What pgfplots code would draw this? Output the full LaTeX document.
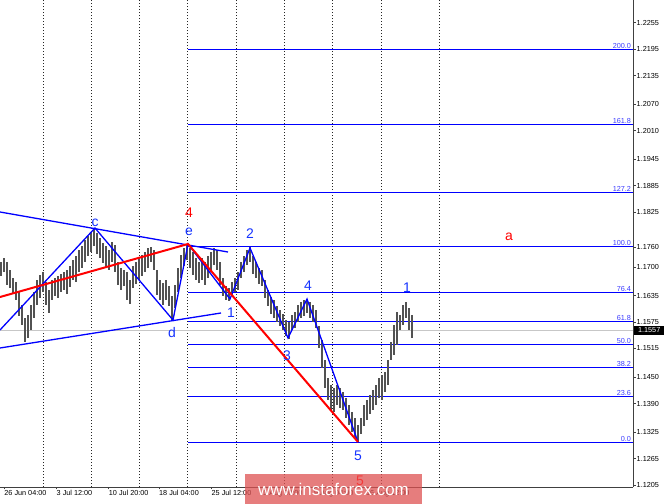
\documentclass[border=0pt]{standalone}
\usepackage{fontspec}
\setmainfont{Liberation Sans}
\usepackage{pgfplots}
\usepackage{pgfplotstable}
\pgfplotsset{compat=1.18}
\definecolor{wblue}{RGB}{0,0,255}
\definecolor{tblue}{RGB}{20,50,255}
\definecolor{fblue}{RGB}{60,60,255}
\definecolor{wred}{RGB}{255,0,0}
\definecolor{wm}{RGB}{222,82,82}
\newcommand{\tk}{\fontsize{7.3}{8}\selectfont}
\newcommand{\wl}{\fontsize{14}{16}\selectfont}

\pgfplotstableread{
x hi lo
1 1.17115 1.16797
4 1.17206 1.16888
7 1.17115 1.16592
10 1.16933 1.16524
13 1.16751 1.16411
16 1.16661 1.16252
19 1.16433 1.15888
22 1.16138 1.15684
25 1.15843 1.15298
28 1.15911 1.15389
31 1.16138 1.15570
34 1.16433 1.15843
37 1.16706 1.16138
40 1.16819 1.16297
43 1.16888 1.16433
46 1.16661 1.16138
49 1.16479 1.15956
52 1.16706 1.16252
55 1.16751 1.16342
58 1.16797 1.16297
61 1.16842 1.16433
64 1.16888 1.16479
67 1.16933 1.16388
70 1.17024 1.16547
73 1.17160 1.16706
76 1.17251 1.16661
79 1.17387 1.16888
82 1.17478 1.16978
85 1.17614 1.17115
88 1.17705 1.17251
91 1.17796 1.17342
94 1.17887 1.17478
97 1.17773 1.17297
100 1.17660 1.17206
103 1.17546 1.17092
106 1.17478 1.16978
109 1.17387 1.16933
112 1.17569 1.17115
115 1.17501 1.16888
118 1.17115 1.16592
121 1.16978 1.16479
124 1.16933 1.16570
127 1.16888 1.16252
130 1.16706 1.16161
133 1.17024 1.16524
136 1.17115 1.16615
139 1.17206 1.16706
142 1.17274 1.16797
145 1.17342 1.16888
148 1.17433 1.16978
151 1.17455 1.17115
154 1.17387 1.16933
157 1.16933 1.16365
160 1.16706 1.16252
163 1.16638 1.16138
166 1.16706 1.16252
169 1.16570 1.16115
172 1.16342 1.15797
175 1.16592 1.16070
178 1.16978 1.16433
181 1.17274 1.16751
184 1.17433 1.17024
187 1.17524 1.17160
190 1.17433 1.16978
193 1.17342 1.16819
196 1.17206 1.16706
199 1.17115 1.16638
202 1.17206 1.16706
205 1.17115 1.16592
208 1.17251 1.16751
211 1.17342 1.16888
214 1.17433 1.17047
217 1.17387 1.16933
220 1.17115 1.16592
223 1.16751 1.16342
226 1.16570 1.16252
229 1.16524 1.16229
232 1.16661 1.16342
235 1.16751 1.16433
238 1.16888 1.16479
241 1.17115 1.16751
244 1.17251 1.16888
247 1.17387 1.17047
250 1.17455 1.17115
253 1.17251 1.16842
256 1.17115 1.16751
259 1.16978 1.16615
262 1.16933 1.16570
265 1.16706 1.16297
268 1.16479 1.16115
271 1.16320 1.15934
274 1.16252 1.15843
277 1.16115 1.15752
280 1.16025 1.15661
283 1.15934 1.15570
286 1.15797 1.15434
289 1.15752 1.15366
292 1.15911 1.15570
295 1.15979 1.15616
298 1.16138 1.15752
301 1.16206 1.15843
304 1.16252 1.15888
307 1.16274 1.15956
310 1.16206 1.15843
313 1.16138 1.15752
316 1.16025 1.15616
319 1.15661 1.15161
322 1.15343 1.14707
325 1.14889 1.14253
328 1.14480 1.13980
331 1.14321 1.13753
334 1.14253 1.13708
337 1.14321 1.13867
340 1.14253 1.13799
343 1.14162 1.13753
346 1.14026 1.13571
349 1.13867 1.13413
352 1.13708 1.13254
355 1.13571 1.13117
358 1.13413 1.13026
361 1.13571 1.13208
364 1.13867 1.13390
367 1.13980 1.13526
370 1.14094 1.13662
373 1.14208 1.13753
376 1.14321 1.13867
379 1.14480 1.14026
382 1.14548 1.13980
385 1.14616 1.14162
388 1.14889 1.14321
391 1.15298 1.14889
394 1.15684 1.15002
397 1.15979 1.15230
400 1.15911 1.15570
403 1.16138 1.15684
406 1.16206 1.15843
409 1.16070 1.15570
412 1.15911 1.15389
}\bars

\begin{document}
\begin{tikzpicture}
\begin{axis}[
  scale only axis, width=633bp, height=487bp,
  xmin=0, xmax=633, ymin=1.12005, ymax=1.23066,
  axis x line*=bottom, axis y line*=right,
  axis line style={black!75, line width=0.8bp, -},
  clip=false,
  tick align=outside, major tick length=2.5bp,
  tick style={black!75, line width=0.6bp},
  xtick={4.2,56.5,108.7,159,211.5,263,314,366},
  xticklabels={26 Jun 04:00,3 Jul 12:00,10 Jul 20:00,18 Jul 04:00,25 Jul 12:00,1 Aug 20:00,9 Aug 04:00,16 Aug 12:00},
  xticklabel style={font=\tk, anchor=north west, xshift=-1bp, inner sep=1bp},
  ytick={1.2255,1.2195,1.2135,1.2070,1.2010,1.1945,1.1885,1.1825,1.1746,1.1700,1.1635,1.1575,1.1515,1.1450,1.1390,1.1325,1.1265,1.1205},
  yticklabels={1.2255,1.2195,1.2135,1.2070,1.2010,1.1945,1.1885,1.1825,1.1760,1.1700,1.1635,1.1575,1.1515,1.1450,1.1390,1.1325,1.1265,1.1205},
  yticklabel style={font=\tk, anchor=west, inner sep=1bp},
  extra x ticks={43.5,91.5,139.5,187.5,236.5,284.5,332.5,381.5,439.5},
  extra x tick labels={},
  extra x tick style={grid=major, major tick length=0pt, major grid style={black!85, line width=0.7bp, dash pattern=on 1.5bp off 1.5bp}},
]
\coordinate (BL) at (rel axis cs:0,0);
\coordinate (TR) at (rel axis cs:1,1);
% current price line
\addplot[black!22, line width=1bp] coordinates {(0,1.15560) (633,1.15560)};
% fibonacci levels
\addplot[wblue, line width=1bp] coordinates {(188,1.13016) (633,1.13016)};
\addplot[wblue, line width=1bp] coordinates {(188,1.14060) (633,1.14060)};
\addplot[wblue, line width=1bp] coordinates {(188,1.14719) (633,1.14719)};
\addplot[wblue, line width=1bp] coordinates {(188,1.15242) (633,1.15242)};
\addplot[wblue, line width=1bp] coordinates {(188,1.15764) (633,1.15764)};
\addplot[wblue, line width=1bp] coordinates {(188,1.16423) (633,1.16423)};
\addplot[wblue, line width=1bp] coordinates {(188,1.17467) (633,1.17467)};
\addplot[wblue, line width=1bp] coordinates {(188,1.18694) (633,1.18694)};
\addplot[wblue, line width=1bp] coordinates {(188,1.20238) (633,1.20238)};
\addplot[wblue, line width=1bp] coordinates {(188,1.21942) (633,1.21942)};
\node[font=\tk, text=fblue, anchor=south east, inner sep=0.8bp] at (axis cs:632,1.13016) {0.0};
\node[font=\tk, text=fblue, anchor=south east, inner sep=0.8bp] at (axis cs:632,1.14060) {23.6};
\node[font=\tk, text=fblue, anchor=south east, inner sep=0.8bp] at (axis cs:632,1.14719) {38.2};
\node[font=\tk, text=fblue, anchor=south east, inner sep=0.8bp] at (axis cs:632,1.15242) {50.0};
\node[font=\tk, text=fblue, anchor=south east, inner sep=0.8bp] at (axis cs:632,1.15764) {61.8};
\node[font=\tk, text=fblue, anchor=south east, inner sep=0.8bp] at (axis cs:632,1.16423) {76.4};
\node[font=\tk, text=fblue, anchor=south east, inner sep=0.8bp] at (axis cs:632,1.17467) {100.0};
\node[font=\tk, text=fblue, anchor=south east, inner sep=0.8bp] at (axis cs:632,1.18694) {127.2};
\node[font=\tk, text=fblue, anchor=south east, inner sep=0.8bp] at (axis cs:632,1.20238) {161.8};
\node[font=\tk, text=fblue, anchor=south east, inner sep=0.8bp] at (axis cs:632,1.21942) {200.0};
% price bars
\addplot[draw=none, mark=none, error bars/.cd, y dir=minus, y explicit, error mark=none,
  error bar style={draw=black!68, line width=1.3bp}]
  table[x=x, y=hi, y error minus expr=\thisrow{hi}-\thisrow{lo}] {\bars};
% trend lines
\addplot[wblue, line width=1.3bp] coordinates {(0,1.18251) (228,1.17342)};
\addplot[wblue, line width=1.3bp] coordinates {(0,1.15162) (221,1.15957)};
\addplot[wblue, line width=1.3bp] coordinates {(0,1.15571) (95,1.17887) (173,1.15798) (188,1.17524) (230,1.16275) (250,1.17433) (288,1.15389) (307,1.16275) (358,1.13027)};
\addplot[wred, line width=2bp] coordinates {(0,1.16320) (188,1.17524) (358,1.13027)};
% wave labels
\node[font=\wl, text=tblue, anchor=base] at (axis cs:95,1.17930) {c};
\node[font=\wl, text=tblue, anchor=base] at (axis cs:172,1.15411) {d};
\node[font=\wl, text=tblue, anchor=base] at (axis cs:189,1.17728) {e};
\node[font=\wl, text=wred, anchor=base] at (axis cs:189,1.18137) {4};
\node[font=\wl, text=tblue, anchor=base] at (axis cs:250,1.17660) {2};
\node[font=\wl, text=tblue, anchor=base] at (axis cs:231,1.15866) {1};
\node[font=\wl, text=tblue, anchor=base] at (axis cs:287,1.14889) {3};
\node[font=\wl, text=tblue, anchor=base] at (axis cs:308,1.16479) {4};
\node[font=\wl, text=tblue, anchor=base] at (axis cs:358,1.12618) {5};
\node[font=\wl, text=tblue, anchor=base] at (axis cs:407,1.16433) {1};
\node[font=\wl, text=wred, anchor=base] at (axis cs:509,1.17614) {a};
% price tag
\node[fill=black, text=white, font=\tk, anchor=west, inner sep=1bp, minimum height=9bp, minimum width=30bp] at (axis cs:634,1.1556) {1.1557};
% watermark
\node[fill=wm, fill opacity=0.75, text opacity=1, text=white, font=\fontsize{17}{19}\selectfont, minimum width=177bp, minimum height=30bp, inner sep=0pt] at (axis cs:333.5,1.11959) {www.instaforex.com};
\node[font=\wl, text=wred, text opacity=0.55, anchor=base] at (axis cs:360,1.12050) {5};
\end{axis}
\pgfresetboundingbox
\path[use as bounding box] ([yshift=-17bp]BL) rectangle ([xshift=32bp]TR);
\end{tikzpicture}
\end{document}
